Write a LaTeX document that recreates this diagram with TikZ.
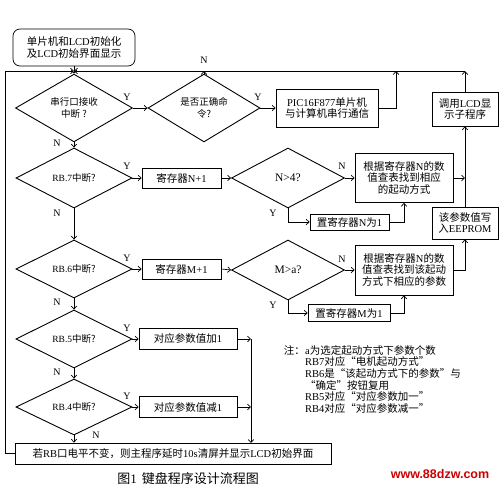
\documentclass[tikz,border=0pt]{standalone}
\usepackage{fontspec}
\setmainfont{Noto Sans CJK SC}
\newfontfamily\latf{Liberation Serif}
\newfontfamily\urlf{Liberation Sans}
\newcommand\latn[1]{{\latf #1}}
\usetikzlibrary{shapes.geometric,arrows.meta}
\definecolor{urlred}{RGB}{204,0,0}
\begin{document}
\begin{tikzpicture}[x=1pt,y=-1pt,
  every node/.style={font=\fontsize{10.5}{11.7}\selectfont},
  box/.style={draw,line width=0.7pt,inner sep=0pt,align=center},
  dia/.style={draw,diamond,line width=0.9pt,inner sep=0pt,align=center,font=\fontsize{9.5}{11.5}\selectfont},
  arr/.style={line width=0.7pt,-{Straight Barb[length=3pt,width=5.5pt]}},
  ln/.style={line width=0.7pt},
  lab/.style={font=\latf\fontsize{10}{12}\selectfont,inner sep=0pt}]
\useasboundingbox (0,0) rectangle (500,487);

% nodes
\node[box,rounded corners=7pt,minimum width=122pt,minimum height=37pt] (start) at (74,47.5) {单片机和\latn{LCD}初始化\\及\latn{LCD}初始界面显示};
\node[dia,minimum width=117pt,minimum height=60pt] (d1) at (74,108) {串行口接收\\中断 ?};
\node[dia,minimum width=112pt,minimum height=60pt] (d2) at (204,108) {是否正确命\\令?};
\node[box,minimum width=102pt,minimum height=38pt] (pic) at (327,108) {\latn{PIC16F877}单片机\\与计算机串行通信};
\node[box,minimum width=66pt,minimum height=34pt] (lcd) at (465,109) {调用\latn{LCD}显\\示子程序};
\node[dia,minimum width=116pt,minimum height=60pt] (d3) at (74,178) {\latn{RB.7}中断?};
\node[box,minimum width=79pt,minimum height=20pt] (nreg) at (181.5,178) {寄存器\latn{N+1}};
\node[dia,minimum width=113pt,minimum height=60pt,font=\fontsize{11.5}{13}\selectfont] (d4) at (288,178) {\latn{N>4?}};
\node[box,minimum width=98pt,minimum height=49pt] (find1) at (404,178) {根据寄存器\latn{N}的数\\值查表找到相应\\的起动方式};
\node[box,minimum width=79pt,minimum height=16pt] (setn) at (349.5,222) {置寄存器\latn{N}为\latn{1}};
\node[box,minimum width=66pt,minimum height=32pt] (eep) at (465,223) {该参数值写\\入\latn{EEPROM}};
\node[dia,minimum width=116pt,minimum height=58pt] (d5) at (74,269) {\latn{RB.6}中断?};
\node[box,minimum width=79pt,minimum height=20pt] (mreg) at (181.5,269) {寄存器\latn{M+1}};
\node[dia,minimum width=113pt,minimum height=60pt,font=\fontsize{11.5}{13}\selectfont] (d6) at (288,270) {\latn{M>a?}};
\node[box,minimum width=98pt,minimum height=50pt] (find2) at (404,270) {根据寄存器\latn{N}的数\\值查表找到该起动\\方式下相应的参数};
\node[box,minimum width=82pt,minimum height=17pt] (setm) at (349,313) {置寄存器\latn{M}为\latn{1}};
\node[dia,minimum width=116pt,minimum height=58pt] (d7) at (74,339) {\latn{RB.5}中断?};
\node[box,minimum width=98pt,minimum height=21pt] (add) at (188,339) {对应参数值加\latn{1}};
\node[dia,minimum width=116pt,minimum height=56pt] (d8) at (74,407) {\latn{RB.4}中断?};
\node[box,minimum width=98pt,minimum height=21pt] (sub) at (188,407) {对应参数值减\latn{1}};
\node[box,minimum width=316pt,minimum height=21pt] (bot) at (173,453.5) {若\latn{RB}口电平不变，则主程序延时\latn{10s}清屏并显示\latn{LCD}初始界面};

\node[anchor=north west,align=left,inner sep=0pt] (note) at (305,345) {\latn{a}为选定起动方式下参数个数\\\latn{RB7}对应“电机起动方式”\\\latn{RB6}是“该起动方式下的参数”与\\“确定”按钮复用\\\latn{RB5}对应“对应参数加一”\\\latn{RB4}对应“对应参数减一”};
\node[anchor=north east,inner sep=0pt] (notehd) at (note.north west) {注：};

\node[font=\fontsize{13}{15}\selectfont] (cap) at (188,479) {图\latn{1}\hspace{5pt}键盘程序设计流程图};
\node[font=\urlf\bfseries\fontsize{12.5}{14}\selectfont,text=urlred] (url) at (440,474) {www.88dzw.com};

% coordinates
\coordinate (j) at (74,71);
\coordinate (tr) at (465,71);
\coordinate (tp) at (396,71);
\coordinate (tn) at (204,71);
\coordinate (lb) at (5,453.5);
\coordinate (lt) at (5,71);
\coordinate (vb) at (251,443);

% connectors
\draw[arr] (start.south) -- (d1.north);
\draw[arr] (bot.west) -- (lb) -- (lt) -- (j);
\draw[arr] (lcd.north) -- (tr);
\draw[arr] (tr) -- (j);
\draw[arr] (pic.east) -| (tp);
\draw[arr] (d2.north) -- (tn);
\draw[arr] (d1.east) -- (d2.west);
\draw[arr] (d2.east) -- (pic.west);
\draw[arr] (d1.south) -- (d3.north);
\draw[arr] (d3.east) -- (nreg.west);
\draw[arr] (nreg.east) -- (d4.west);
\draw[arr] (d4.east) -- (find1.west);
\draw[arr] (d4.south) |- (setn.west);
\draw[arr] (setn.east) -| (find1.south);
\draw[arr] (find1.east) -- (find1.east -| eep.north);
\draw[arr] (eep.north) -- (lcd.south);
\draw[arr] (d3.south) -- (d5.north);
\draw[arr] (d5.east) -- (mreg.west);
\draw[arr] (mreg.east) -- (d6.west);
\draw[arr] (d6.east) -- (find2.west);
\draw[arr] (d6.south) |- (setm.west);
\draw[arr] (setm.east) -| (find2.south);
\draw[arr] (find2.east) -| (eep.south);
\draw[arr] (d5.south) -- (d7.north);
\draw[arr] (d7.east) -- (add.west);
\draw[arr] (add.east) -- (add.east -| vb);
\draw[arr] (add.east -| vb) -- (vb);
\draw[arr] (d7.south) -- (d8.north);
\draw[arr] (d8.east) -- (sub.west);
\draw[arr] (sub.east) -- (sub.east -| vb);
\draw[arr] (d8.south) -- (d8.south |- bot.north);

% labels
\node[lab] (y1) at (127,97) {Y};
\node[lab] (y2) at (258,97) {Y};
\node[lab] (y3) at (127,166) {Y};
\node[lab] (y4) at (127,258) {Y};
\node[lab] (y5) at (127,328) {Y};
\node[lab] (y6) at (127,396) {Y};
\node[lab] (y7) at (273,213) {Y};
\node[lab] (y8) at (273,305) {Y};
\node[lab] (n1) at (204,60) {N};
\node[lab] (n2) at (57,143) {N};
\node[lab] (n3) at (57,213) {N};
\node[lab] (n4) at (57,302) {N};
\node[lab] (n5) at (57,372) {N};
\node[lab] (n6) at (96,435) {N};
\node[lab] (n7) at (342,166) {N};
\node[lab] (n8) at (342,259) {N};
\end{tikzpicture}
\end{document}
